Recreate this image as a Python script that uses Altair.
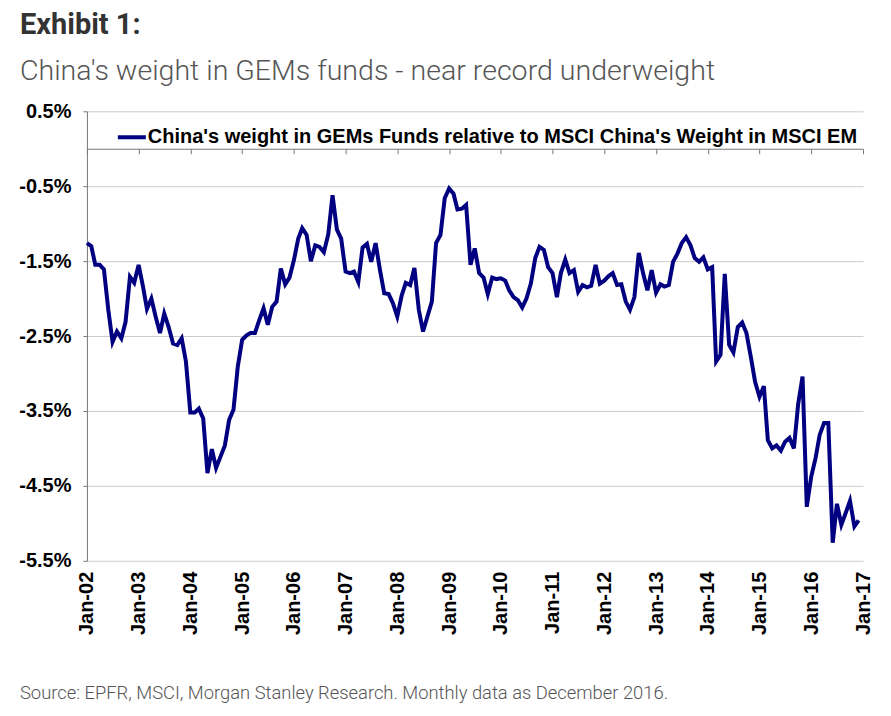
import altair as alt
import pandas as pd

# ---------------- data ----------------
years = list(range(2002, 2018))
y_ticks = [0.5, -0.5, -1.5, -2.5, -3.5, -4.5, -5.5]

series_name = "China's weight in GEMs Funds relative to MSCI China's Weight in MSCI EM"
title_text = "Exhibit 1:"
subtitle_text = "China's weight in GEMs funds - near record underweight"
source_text = "Source: EPFR, MSCI, Morgan Stanley Research. Monthly data as December 2016."

v2002 = [-1.26, -1.30, -1.55, -1.55, -1.61, -2.15, -2.58, -2.44, -2.53, -2.31, -1.71, -1.79]
v2003 = [-1.55, -1.84, -2.14, -2.00, -2.24, -2.46, -2.20, -2.38, -2.60, -2.62, -2.53, -2.84]
v2004 = [-3.52, -3.52, -3.47, -3.60, -4.33, -4.01, -4.26, -4.11, -3.96, -3.62, -3.48, -2.91]
v2005 = [-2.55, -2.49, -2.46, -2.46, -2.29, -2.13, -2.35, -2.11, -2.04, -1.60, -1.81, -1.72]
v2006 = [-1.49, -1.20, -1.06, -1.15, -1.50, -1.29, -1.31, -1.38, -1.14, -0.62, -1.08, -1.20]
v2007 = [-1.64, -1.66, -1.64, -1.78, -1.32, -1.27, -1.51, -1.26, -1.62, -1.93, -1.94, -2.06]
v2008 = [-2.24, -1.96, -1.79, -1.82, -1.59, -2.15, -2.44, -2.24, -2.04, -1.26, -1.15, -0.66]
v2009 = [-0.53, -0.60, -0.81, -0.80, -0.75, -1.55, -1.33, -1.66, -1.72, -1.94, -1.72, -1.74]
v2010 = [-1.73, -1.76, -1.89, -1.98, -2.02, -2.12, -2.00, -1.80, -1.46, -1.31, -1.35, -1.58]
v2011 = [-1.66, -1.98, -1.66, -1.48, -1.66, -1.62, -1.91, -1.82, -1.85, -1.83, -1.55, -1.80]
v2012 = [-1.76, -1.70, -1.66, -1.82, -1.81, -2.04, -2.15, -1.98, -1.39, -1.66, -1.89, -1.62]
v2013 = [-1.92, -1.81, -1.84, -1.82, -1.51, -1.40, -1.26, -1.18, -1.29, -1.46, -1.51, -1.45]
v2014 = [-1.61, -1.58, -2.84, -2.75, -1.67, -2.62, -2.72, -2.38, -2.32, -2.46, -2.78, -3.11]
v2015 = [-3.31, -3.17, -3.89, -4.00, -3.96, -4.03, -3.91, -3.86, -4.00, -3.41, -3.04, -4.78]
v2016 = [-4.38, -4.13, -3.82, -3.66, -3.66, -5.26, -4.74, -5.02, -4.86, -4.70, -5.04, -4.96]

values = (v2002 + v2003 + v2004 + v2005 + v2006 + v2007 + v2008 + v2009 + v2010
          + v2011 + v2012 + v2013 + v2014 + v2015 + v2016)

dates = pd.date_range("2002-01-01", periods=len(values), freq="MS")
df = pd.DataFrame({"date": dates, "value": values, "series": series_name})

# ---------------- chart ----------------
W, H = 777, 450
zero_from_top = H * 0.5 / 6.0
axis_offset = -(H - zero_from_top)

bold_font = "Liberation Sans"

x_enc = alt.X(
    "date:T",
    scale=alt.Scale(domain=[alt.DateTime(year=2002, month=1, date=1),
                            alt.DateTime(year=2017, month=1, date=1)]),
    axis=alt.Axis(
        values=[alt.DateTime(year=y, month=1, date=1) for y in years],
        format="%b-%y",
        title=None,
        grid=False,
        offset=axis_offset,
        domainColor="#777777",
        tickColor="#777777",
        tickSize=5,
        labelAngle=270,
        labelAlign="right",
        labelBaseline="middle",
        labelPadding=418,
        labelFont=bold_font,
        labelFontWeight="bold",
        labelFontSize=20,
        labelColor="#000000",
        labelOverlap=False,
        labelFlush=False,
    ),
)

y_enc = alt.Y(
    "value:Q",
    scale=alt.Scale(domain=[-5.5, 0.5], nice=False, zero=False),
    axis=alt.Axis(
        values=y_ticks,
        labelExpr="(datum.value < 0 ? '-' : '') + format(abs(datum.value), '.1f') + '%'",
        title=None,
        grid=True,
        gridColor="#cccccc",
        gridWidth=1,
        domainColor="#777777",
        tickColor="#777777",
        tickSize=4,
        labelPadding=12,
        labelFont=bold_font,
        labelFontWeight="bold",
        labelFontSize=20,
        labelColor="#000000",
    ),
)

line = alt.Chart(df).mark_line(strokeWidth=4).encode(
    x=x_enc,
    y=y_enc,
    color=alt.Color(
        "series:N",
        scale=alt.Scale(range=["#000080"]),
        legend=alt.Legend(
            orient="none",
            legendX=29,
            legendY=10,
            title=None,
            symbolType="stroke",
            symbolSize=784,
            symbolStrokeWidth=4,
            labelFont=bold_font,
            labelFontWeight="bold",
            labelFontSize=20,
            labelColor="#000000",
            labelLimit=1000,
            labelOffset=0,
            padding=0,
        ),
    ),
)

title_layer = alt.Chart(pd.DataFrame({"t": [title_text]})).mark_text(
    align="left", baseline="alphabetic", font="Roboto", fontSize=29,
    fontWeight="bold", color="#333333"
).encode(text="t:N", x=alt.value(-67), y=alt.value(-77))

subtitle_layer = alt.Chart(pd.DataFrame({"t": [subtitle_text]})).mark_text(
    align="left", baseline="alphabetic", font="Roboto", fontSize=28.6,
    fontWeight=300, color="#555555"
).encode(text="t:N", x=alt.value(-67), y=alt.value(-31))

source_layer = alt.Chart(pd.DataFrame({"t": [source_text]})).mark_text(
    align="left", baseline="alphabetic", font="Roboto", fontSize=18.4,
    fontWeight=300, color="#555555"
).encode(text="t:N", x=alt.value(-67), y=alt.value(588))

chart = alt.layer(line, title_layer, subtitle_layer, source_layer).properties(
    width=W,
    height=H,
    autosize=alt.AutoSizeParams(type="none"),
    padding={"left": 79, "top": 103, "right": 20, "bottom": 150},
    background="white",
).configure_view(stroke=None)

chart.save("out.html", embed_options={"renderer": "svg", "actions": False})
